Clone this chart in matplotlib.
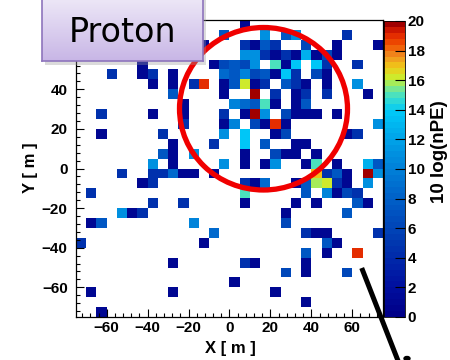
import numpy as np
import matplotlib
matplotlib.use("Agg")
import matplotlib.pyplot as plt
from matplotlib.colors import LinearSegmentedColormap
from matplotlib.patches import Ellipse, Rectangle
from matplotlib.ticker import MultipleLocator

# colour levels (z = 10 log(nPE))
N, B4, B5, B6, B7 = 1.0, 4.5, 6.0, 7.5, 8.5
L8, L9, L10, C = 10.0, 11.0, 12.5, 13.8
T, G, YG, Y, RO, DR = 15.0, 15.6, 16.2, 16.8, 19.0, 19.9

# filled cells, row by row from the top (bin centres in metres)
cell_x = [7.5,
          -2.5, 17.5, 27.5, 32.5, 57.5,
          -12.5, 7.5, 12.5, 17.5, 22.5, 37.5, 52.5, 72.5,
          7.5, 12.5, 17.5, 22.5, 27.5, 32.5, 37.5, 42.5, 47.5, 52.5,
          -42.5, -7.5, -2.5, 2.5, 7.5, 12.5, 22.5, 27.5, 32.5, 42.5, 47.5, 62.5,
          -57.5, -42.5, -37.5, -27.5, -2.5, 2.5, 7.5, 12.5, 17.5, 22.5, 27.5, 32.5, 42.5, 47.5,
          -37.5, -27.5, -17.5, -12.5, -2.5, 2.5, 7.5, 12.5, 17.5, 27.5, 32.5, 37.5, 47.5, 62.5,
          -27.5, -2.5, 12.5, 22.5, 32.5, 37.5, 47.5, 67.5,
          -22.5, 2.5, 7.5, 12.5, 17.5, 22.5, 32.5, 37.5,
          -62.5, -37.5, -22.5, -2.5, 7.5, 12.5, 17.5, 27.5, 32.5, 37.5, 42.5, 52.5,
          -22.5, -2.5, 2.5, 12.5, 17.5, 22.5, 27.5, 72.5,
          -62.5, -32.5, -2.5, 7.5, 22.5, 27.5, 57.5, 62.5,
          -27.5, -7.5, 7.5, 17.5, 32.5, 37.5,
          -32.5, -27.5, -17.5, 7.5, 22.5, 27.5, 32.5, 42.5,
          -37.5, -27.5, -2.5, 7.5, 17.5, 22.5, 37.5, 42.5, 52.5, 67.5, 72.5,
          -52.5, -37.5, -32.5, -27.5, -22.5, -17.5, -7.5, 42.5, 47.5, 52.5, 57.5, 67.5, 72.5,
          -42.5, -37.5, 7.5, 12.5, 17.5, 32.5, 37.5, 42.5, 47.5, 52.5, 57.5, 67.5,
          -67.5, 7.5, 37.5, 47.5, 52.5, 57.5, 62.5,
          -37.5, -22.5, 7.5, 32.5, 42.5, 62.5, 67.5,
          -52.5, -47.5, -42.5, 27.5, 57.5,
          -67.5, -62.5, -17.5, 27.5,
          -7.5, 37.5, 42.5, 47.5, 72.5,
          -72.5, -12.5, 47.5, 52.5,
          37.5, 47.5, 62.5,
          -27.5, 7.5, 12.5, 37.5,
          27.5, 37.5, 57.5,
          2.5,
          -67.5, -27.5, 22.5,
          37.5,
          -62.5]
cell_y = ([72.5] + [67.5] * 5 + [62.5] * 8 + [57.5] * 10 + [52.5] * 12 + [47.5] * 14
          + [42.5] * 14 + [37.5] * 8 + [32.5] * 8 + [27.5] * 12 + [22.5] * 8 + [17.5] * 8
          + [12.5] * 6 + [7.5] * 8 + [2.5] * 11 + [-2.5] * 13 + [-7.5] * 12 + [-12.5] * 7
          + [-17.5] * 7 + [-22.5] * 5 + [-27.5] * 4 + [-32.5] * 5 + [-37.5] * 4 + [-42.5] * 3
          + [-47.5] * 4 + [-52.5] * 3 + [-57.5] + [-62.5] * 3 + [-67.5] + [-72.5])
cell_val = [N,
            B6, L9, B6, L9, B4,
            N, B4, N, B6, B4, B5, N, N,
            L9, L9, B4, N, B4, N, L10, N, B5, N,
            N, N, B5, B6, B5, L9, T, N, C, C, B4, B4,
            B4, N, B4, N, B7, B6, L8, B5, B6, N, C, B4, B5, N,
            N, N, B4, RO, N, B6, YG, N, B4, B6, B4, N, N, L9,
            B6, N, DR, B4, N, B4, B4, N,
            N, L8, B7, B6, T, N, N, B6,
            B4, N, N, B4, N, DR, L9, B5, N, N, N, N,
            B4, N, L8, B5, N, RO, N, L9,
            N, B4, L9, C, N, B5, N, B4,
            N, B4, C, B6, N, N,
            B6, N, L9, N, B5, N, N, N,
            L9, N, L9, N, N, L9, N, T, N, L10, B6,
            B4, B4, B4, B7, N, N, N, Y, B4, B6, N, DR, L9,
            N, B4, B4, N, B7, N, B6, G, YG, B4, N, L9,
            B4, T, B6, L8, N, B5, B4,
            B4, B4, N, N, N, B6, N,
            L9, N, B4, N, B6,
            N, B6, L8, B5,
            B7, B4, N, N, B4,
            B4, N, B6, N,
            B6, N, RO,
            N, B4, N, N,
            B5, N, B5,
            N,
            N, N, N,
            N,
            N]

bin_edges = np.arange(-75, 80, 5)
x_ticks = [-60, -40, -20, 0, 20, 40, 60]
y_ticks = [-60, -40, -20, 0, 20, 40]
z_ticks = list(range(0, 21, 2))

palette = [(0.00, "#000088"), (0.10, "#0010a0"), (0.25, "#0038b0"), (0.40, "#0060c8"),
           (0.55, "#0090e0"), (0.70, "#00c8f8"), (0.75, "#40e0c8"), (0.78, "#80e888"),
           (0.81, "#c8f030"), (0.85, "#f0c818"), (0.89, "#f09020"), (0.93, "#f05000"),
           (0.97, "#e02000"), (1.00, "#a00000")]
cmap = LinearSegmentedColormap.from_list("root", palette, N=50)

W, H = 450, 360
def fx(px):
    return px / W
def fy(py):
    return 1 - py / H

fig = plt.figure(figsize=(4.5, 3.6), dpi=100)
tick_font = dict(family="Liberation Sans", weight="bold", size=11)

ax = fig.add_axes([fx(76), fy(317), (383 - 76) / W, (317 - 20) / H])
counts, _, _ = np.histogram2d(cell_x, cell_y, bins=[bin_edges, bin_edges], weights=cell_val)
mesh = ax.pcolormesh(bin_edges, bin_edges, np.ma.masked_equal(counts.T, 0),
                     cmap=cmap, vmin=0, vmax=20)
ax.set_xlim(-75, 75)
ax.set_ylim(-75, 75)
ax.set_xticks(x_ticks)
ax.set_yticks(y_ticks)
ax.xaxis.set_minor_locator(MultipleLocator(4))
ax.yaxis.set_minor_locator(MultipleLocator(4))
ax.tick_params(which="both", direction="in", top=False, right=False, width=0.8)
ax.tick_params(which="major", length=6)
ax.tick_params(which="minor", length=3)
ax.tick_params(axis="x", pad=3)
ax.tick_params(axis="y", pad=6)
for lab in ax.get_xticklabels() + ax.get_yticklabels():
    lab.set_fontproperties(tick_font)
for sp in ax.spines.values():
    sp.set_linewidth(0.9)

fig.text(fx(230), fy(348), "X [ m ]", ha="center", va="center",
         family="Liberation Sans", weight="bold", size=12)
fig.text(fx(30), fy(168), "Y [ m ]", ha="center", va="center", rotation=90,
         family="Liberation Sans", weight="bold", size=12)

cax = fig.add_axes([fx(384), fy(317), 21 / W, (317 - 21) / H])
cb = fig.colorbar(mesh, cax=cax)
cb.set_ticks(z_ticks)
cb.outline.set_linewidth(0.6)
cax.tick_params(direction="in", length=7, width=0.8, pad=2)
for lab in cax.get_yticklabels():
    lab.set_fontproperties(tick_font)
fig.text(fx(440), fy(152), "10 log(nPE)", ha="center", va="center", rotation=90,
         family="Liberation Sans", weight="bold", size=13.5)

# annotation layer in pixel coordinates
ov = fig.add_axes([0, 0, 1, 1])
ov.set_xlim(0, W)
ov.set_ylim(H, 0)
ov.axis("off")
ov.add_patch(Ellipse((263.5, 108.75), 168, 162.5, fill=False, ec="#f00000", lw=3.8))
ov.plot([361.7, 398.5], [268, 362], color="black", lw=3.6, solid_capstyle="butt")
ov.add_patch(Ellipse((407, 358.5), 6, 4, color="black"))
ov.add_patch(Rectangle((45, -5), 161, 70, color="#9a9a9a", alpha=0.35, lw=0))

bx = fig.add_axes([fx(42), fy(61), (203 - 42) / W, 66 / H])
grad = np.linspace(0, 1, 100).reshape(-1, 1)
bx.imshow(grad, aspect="auto", extent=[0, 1, 0, 1],
          cmap=LinearSegmentedColormap.from_list("box", ["#efeaf8", "#c8b6e6"]))
bx.set_xticks([])
bx.set_yticks([])
for sp in bx.spines.values():
    sp.set_color("#8e74bc")
    sp.set_linewidth(1.2)
fig.text(fx(123), fy(42), "Proton", ha="center", va="baseline", size=24, color="black")

fig.savefig("out.png", dpi=100)
